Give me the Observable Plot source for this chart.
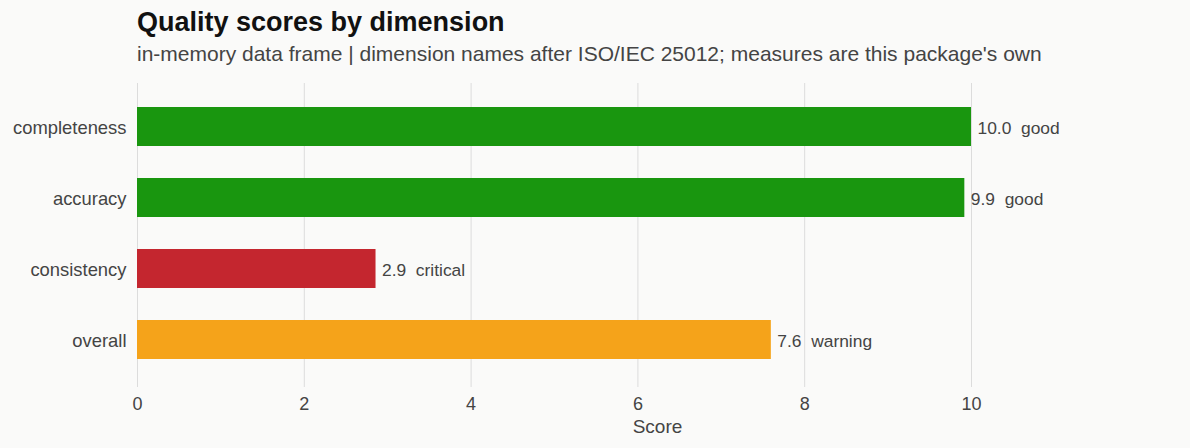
<!DOCTYPE html>
<html>
<head>
<meta charset="utf-8">
<script src="https://cdn.jsdelivr.net/npm/d3@7"></script>
<script src="https://cdn.jsdelivr.net/npm/@observablehq/plot@0.6"></script>
<style>
  html, body { margin: 0; padding: 0; background: #fafaf9; }
  body { width: 1190px; height: 448px; overflow: hidden; font-family: "Liberation Sans", Arial, sans-serif; }
  #hdr { position: relative; height: 70px; }
  #title { position: absolute; left: 137px; top: 8.5px; font-size: 27px; line-height: 27px; font-weight: bold; color: #111; white-space: nowrap; }
  #subtitle { position: absolute; left: 137px; top: 43.2px; font-size: 21px; line-height: 21px; color: #444; white-space: nowrap; }
</style>
</head>
<body>
<div id="hdr">
  <div id="title">Quality scores by dimension</div>
  <div id="subtitle">in-memory data frame | dimension names after ISO/IEC 25012; measures are this package's own</div>
</div>
<div id="chart"></div>
<script>
// Data
const dimensions = ["completeness", "accuracy", "consistency", "overall"];
const scores = [10.0, 9.92, 2.86, 7.6];
const statuses = ["good", "good", "critical", "warning"];
const statusDomain = ["good", "warning", "critical"];
const statusColors = ["#19960f", "#f5a31a", "#c4262f"];
const xTicks = [0, 2, 4, 6, 8, 10];

const data = dimensions.map((d, i) => ({dimension: d, score: scores[i], status: statuses[i]}));

const chart = Plot.plot({
  width: 1190,
  height: 378,
  marginTop: 13,
  marginBottom: 64,
  marginLeft: 137,
  marginRight: 13,
  style: {background: "transparent", fontFamily: "'Liberation Sans', Arial, sans-serif", color: "#444"},
  x: {domain: [0, 12.47]},
  y: {domain: dimensions, paddingInner: 0.45, paddingOuter: 0.325, align: 0.5},
  color: {domain: statusDomain, range: statusColors},
  marks: [
    Plot.gridX(xTicks, {stroke: "#dcdcdc", strokeOpacity: 1, strokeWidth: 1}),
    Plot.axisX({ticks: xTicks, tickSize: 3, tickPadding: 10, fontSize: 18, stroke: "#dcdcdc", fill: "#444", label: null, tickFormat: d => String(d)}),
    Plot.axisY({tickSize: 0, tickPadding: 11, fontSize: 18.4, fill: "#444", label: null, dy: 1.5}),
    Plot.barX(data, {x: "score", y: "dimension", fill: "status"}),
    Plot.text(data, {x: "score", y: "dimension", text: d => `${d.score.toFixed(1)}\u00a0\u00a0${d.status}`, textAnchor: "start", dx: 6, dy: 1.5, fontSize: 17.4, fill: "#444"}),
    Plot.text(["Score"], {frameAnchor: "bottom", lineAnchor: "bottom", dy: 48.7, fontSize: 19, fill: "#444"})
  ]
});
document.getElementById("chart").appendChild(chart);
</script>
</body>
</html>
